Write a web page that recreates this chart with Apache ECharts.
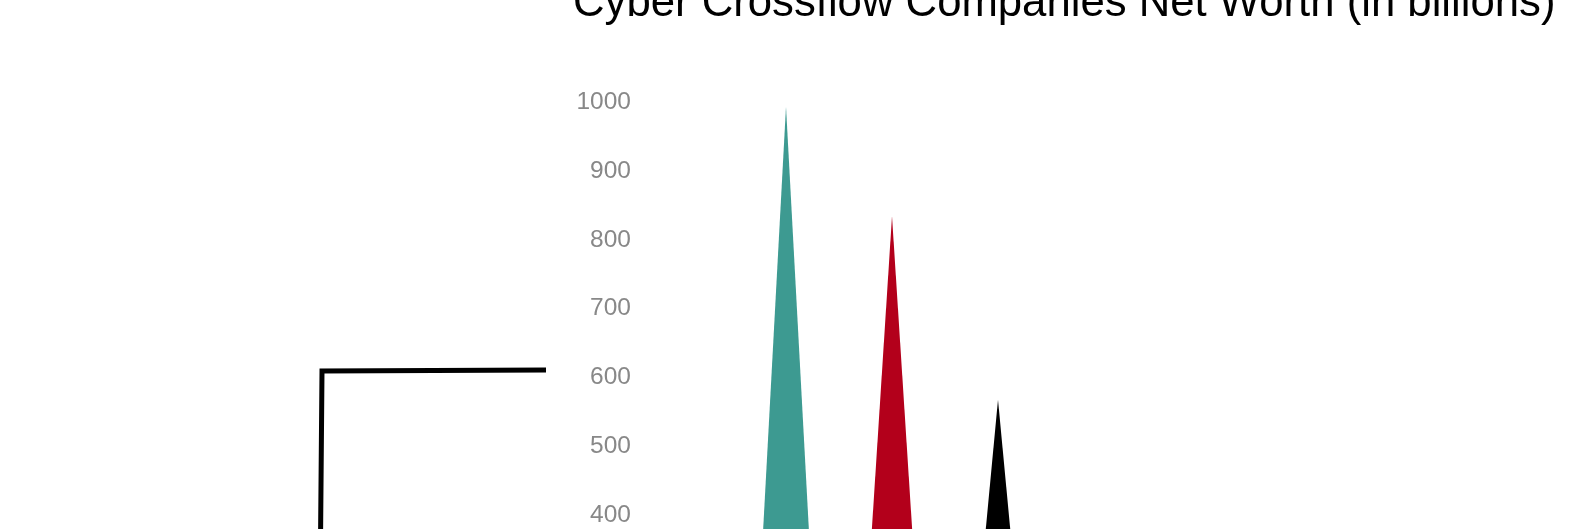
<!DOCTYPE html>
<html lang="en">
<head>
    <meta charset="UTF-8">
    <title>Cyber Crossflow Companies Net Worth</title>
    <script src="https://cdn.jsdelivr.net/npm/echarts@6/dist/echarts.min.js"></script>
    <style>
        html, body {
            margin: 0;
            padding: 0;
            background: #fff;
            overflow: hidden;
        }
        #chart {
            width: 1570px;
            height: 850px;
        }
    </style>
</head>
<body>
    <div id="chart"></div>

    <script>
        var companies = ['Company A', 'Company B', 'Company C'];
        var netWorth = [993, 834, 568];
        var barColors = ['#3d9a91', '#b3001b', '#000000'];
        var yTicks = [0, 1000, 100];

        var myChart = echarts.init(document.getElementById('chart'));

        var option = {
            backgroundColor: '#fff',
            title: {
                text: 'Cyber Crossflow Companies Net Worth (in billions)',
                left: 568,
                top: -23,
                textStyle: {
                    fontFamily: 'Liberation Sans, Arial, sans-serif',
                    fontSize: 43.7,
                    fontWeight: 'normal',
                    color: '#000'
                }
            },
            grid: {
                left: 733,
                right: 519,
                top: 102,
                bottom: 59
            },
            xAxis: {
                type: 'category',
                data: companies,
                axisLine: { show: false },
                axisTick: { show: false },
                axisLabel: { show: false }
            },
            yAxis: {
                type: 'value',
                min: yTicks[0],
                max: yTicks[1],
                interval: yTicks[2],
                offset: 94,
                axisLine: { show: false },
                axisTick: { show: false },
                splitLine: { show: false },
                axisLabel: {
                    color: '#888',
                    fontSize: 24.5,
                    fontFamily: 'Liberation Sans, Arial, sans-serif',
                    formatter: function (v) { return String(v); }
                }
            },
            graphic: [
                {
                    type: 'polyline',
                    shape: { points: [[320, 600], [322, 371], [546, 370]] },
                    style: { stroke: '#000', lineWidth: 5, fill: null }
                }
            ],
            series: [
                {
                    type: 'pictorialBar',
                    symbol: 'triangle',
                    barWidth: 74,
                    symbolSize: ['100%', '100%'],
                    data: netWorth.map(function (v, i) {
                        return { value: v, itemStyle: { color: barColors[i] } };
                    })
                }
            ]
        };

        myChart.setOption(option);
    </script>
</body>
</html>
